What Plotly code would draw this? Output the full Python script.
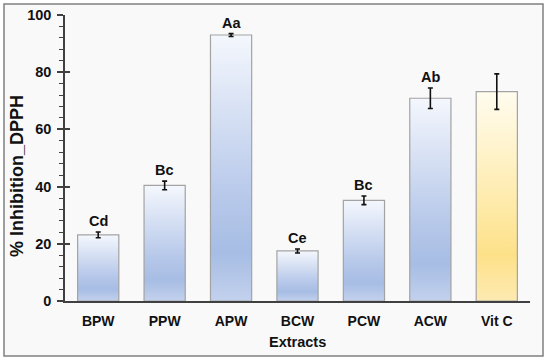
import plotly.graph_objects as go

categories = ["BPW", "PPW", "APW", "BCW", "PCW", "ACW", "Vit C"]
values = [23.1, 40.4, 93.0, 17.5, 35.2, 70.9, 73.2]
errors = [1.0, 1.5, 0.5, 0.7, 1.5, 3.6, 6.2]
letters = ["Cd", "Bc", "Aa", "Ce", "Bc", "Ab", ""]
y_ticks = [0, 20, 40, 60, 80, 100]

blue_scale = [[0, "#c3d1ed"], [0.18, "#a7bde4"], [0.4, "#b8c9ea"], [1, "#f4f7fd"]]
gold_scale = [[0, "#fdeab2"], [0.22, "#fde189"], [0.45, "#feeaa8"], [1, "#fffcef"]]

FONT = "Liberation Sans, Arial, sans-serif"
W = 0.62

fig = go.Figure()

# gradient fills (base axis y)
for i, (c, v) in enumerate(zip(categories, values)):
    scale = gold_scale if c == "Vit C" else blue_scale
    fig.add_trace(go.Scatter(
        x=[i - W / 2, i + W / 2, i + W / 2, i - W / 2, i - W / 2],
        y=[0, 0, v, v, 0],
        mode="lines", fill="toself", line=dict(width=0),
        fillgradient=dict(type="vertical", colorscale=scale),
        hoverinfo="skip", showlegend=False,
    ))

# outlines + error bars on overlay axis (drawn on top)
fig.add_trace(go.Bar(
    x=list(range(len(categories))), y=values, width=W, yaxis="y2",
    marker=dict(color="rgba(0,0,0,0)", line=dict(color="#a3a3a3", width=1.2)),
    error_y=dict(type="data", array=errors, visible=True, color="#111111",
                 thickness=1.6, width=2.5),
    showlegend=False,
))

for i, (v, e, t) in enumerate(zip(values, errors, letters)):
    if t:
        fig.add_annotation(x=i, y=v + e, text=f"<b>{t}</b>", showarrow=False,
                           yanchor="bottom", yshift=1,
                           font=dict(family=FONT, size=14.5, color="#111111"))

# frame
fig.add_shape(type="rect", xref="paper", yref="paper",
              x0=(4 - 65) / 465, x1=(543 - 65) / 465,
              y0=(301 - 356) / 286, y1=(301 - 4) / 286,
              line=dict(color="#808080", width=1.5), fillcolor="#f9f9f9",
              layer="below")

fig.add_annotation(xref="paper", yref="paper", x=(17 - 65) / 465,
                   y=(301 - 176) / 286,
                   text="<b>% Inhibition_DPPH</b>", textangle=-90,
                   showarrow=False, xanchor="center", yanchor="middle",
                   font=dict(family=FONT, size=18, color="#111111"))
fig.add_annotation(xref="paper", yref="paper", x=0.5, y=(301 - 342) / 286,
                   text="<b>Extracts</b>", showarrow=False,
                   xanchor="center", yanchor="middle",
                   font=dict(family=FONT, size=14.5, color="#111111"))

fig.update_layout(
    width=550, height=363,
    margin=dict(l=65, r=20, t=15, b=62, autoexpand=False),
    paper_bgcolor="white", plot_bgcolor="rgba(0,0,0,0)",
    font=dict(family=FONT, size=14, color="#111111"),
    showlegend=False,
    xaxis=dict(
        range=[-0.5, 6.5], tickmode="array",
        tickvals=list(range(len(categories))),
        ticktext=[f"<b>{c}</b>" for c in categories],
        showline=True, linecolor="#404040", linewidth=1.5,
        ticks="", showgrid=False, zeroline=False, automargin=False,
        ticklabelstandoff=6,
    ),
    yaxis=dict(
        range=[0, 100], tickmode="array", tickvals=y_ticks,
        ticktext=[f"<b>{t}</b>" for t in y_ticks],
        showline=True, linecolor="#404040", linewidth=1.5,
        ticks="outside", ticklen=6, tickwidth=1.5, tickcolor="#404040",
        minor=dict(dtick=4, ticks="outside", ticklen=4, tickwidth=1,
                   tickcolor="#404040", showgrid=False),
        showgrid=False, zeroline=False, ticklabelstandoff=3, automargin=False,
        tickfont=dict(size=14.5),
    ),
    yaxis2=dict(
        overlaying="y", range=[0, 100], tickmode="array", tickvals=y_ticks,
        ticks="inside", ticklen=5, tickwidth=1.5, tickcolor="#404040",
        showticklabels=False, showgrid=False, zeroline=False, showline=False,
        automargin=False,
    ),
)

fig.write_html("out.html", config={"displayModeBar": False},
               post_script="document.body.style.margin='0px';"
                           "document.body.style.overflow='hidden';")
